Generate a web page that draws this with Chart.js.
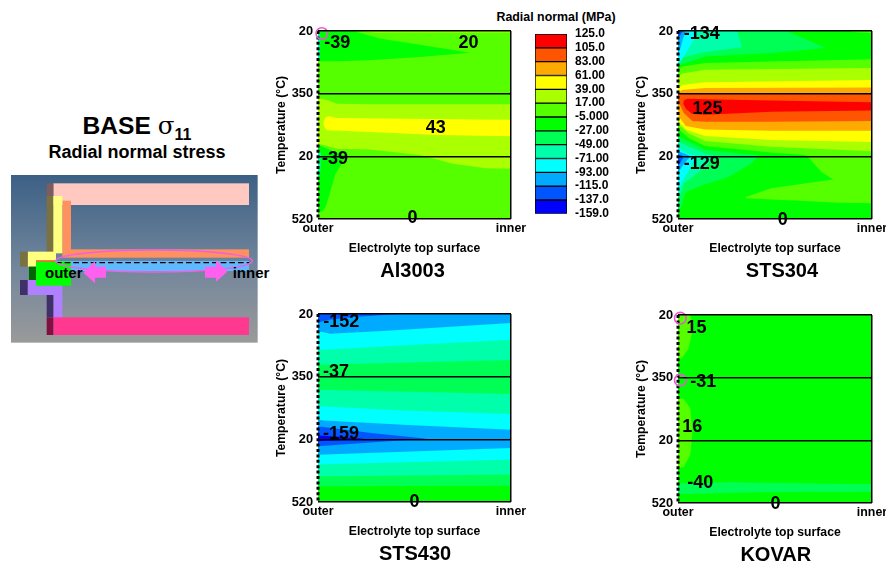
<!DOCTYPE html>
<html>
<head>
<meta charset="utf-8">
<title>BASE radial normal stress</title>
<script src="https://cdn.jsdelivr.net/npm/chart.js@4"></script>
<style>
  html, body { margin: 0; padding: 0; background: #fff; }
  body { position: relative; width: 886px; height: 565px; overflow: hidden; font-family: "Liberation Sans", Arial, sans-serif; color: #000; }
  canvas, svg, .head { position: absolute; }
  .head { left: 0; width: 274px; text-align: center; font-weight: bold; white-space: nowrap; }
  #headA { top: 111px; font-size: 24.6px; line-height: 30px; }
  #headA .sig { font-family: "DejaVu Serif", "Liberation Serif", serif; font-weight: normal; }
  #headA sub { font-size: 16px; line-height: 0; }
  #headB { top: 141px; font-size: 18px; line-height: 22px; }
  #legendTitle { left: 456px; width: 200px; top: 10px; font-size: 12.4px; line-height: 14px; }
</style>
</head>
<body>
<div class="head" id="headA">BASE <span class="sig">σ</span><sub>11</sub></div>
<div class="head" id="headB">Radial normal stress</div>
<div class="head" id="legendTitle">Radial normal (MPa)</div>

<!-- 모델 단면 그림 (데이터 아님) -->
<svg style="left:0;top:100px" width="280" height="250" viewBox="0 0 840 750">
  <defs>
    <linearGradient id="bg" x1="0" y1="0" x2="0" y2="1">
      <stop offset="0" stop-color="#3c6085"/>
      <stop offset="0.55" stop-color="#72869c"/>
      <stop offset="1" stop-color="#9a9a9a"/>
    </linearGradient>
  </defs>
  <rect x="33" y="225" width="740" height="503" fill="url(#bg)"/>
  <rect x="160" y="250" width="587" height="65" fill="#ffc8c0"/>
  <rect x="140" y="250" width="20" height="38" fill="#7c5c5c"/>
  <rect x="187" y="302" width="26" height="150" fill="#ff9060"/>
  <rect x="187" y="448" width="560" height="25" fill="#ff9060"/>
  <rect x="140" y="288" width="20" height="167" fill="#7a7040"/>
  <rect x="160" y="288" width="27" height="172" fill="#ffff80"/>
  <rect x="83" y="455" width="85" height="45" fill="#ffff80"/>
  <rect x="60" y="455" width="23" height="45" fill="#7a7040"/>
  <rect x="165" y="483" width="582" height="30" fill="#60b8ff"/>
  <rect x="87" y="500" width="21" height="40" fill="#006600"/>
  <rect x="83" y="540" width="104" height="45" fill="#b080ff"/>
  <rect x="160" y="585" width="27" height="80" fill="#b080ff"/>
  <rect x="60" y="540" width="23" height="45" fill="#40306a"/>
  <rect x="140" y="585" width="20" height="67" fill="#40306a"/>
  <rect x="108" y="485" width="105" height="72" fill="#00ff00"/>
  <rect x="108" y="481" width="57" height="4" fill="#e04020"/>
  <rect x="160" y="652" width="587" height="53" fill="#ff3890"/>
  <rect x="140" y="652" width="20" height="53" fill="#801040"/>
  <line x1="168" y1="488" x2="747" y2="488" stroke="#000" stroke-width="4" stroke-dasharray="17 9"/>
  <ellipse cx="462" cy="483" rx="295" ry="33" fill="none" stroke="#f060e0" stroke-width="4.5"/>
  <polygon points="318,500 285,500 285,483 250,518 285,550 285,533 318,533" fill="#ff60f0"/>
  <polygon points="615,500 648,500 648,480 682,515 648,545 648,533 615,533" fill="#ff60f0"/>
  <text x="135" y="534" font-size="45" font-weight="bold" fill="#000" font-family="Liberation Sans">outer</text>
  <text x="698" y="534" font-size="45" font-weight="bold" fill="#000" font-family="Liberation Sans">inner</text>
</svg>

<canvas id="chartAl"></canvas>
<canvas id="chartSts304"></canvas>
<canvas id="chartSts430"></canvas>
<canvas id="chartKovar"></canvas>
<canvas id="chartLegend"></canvas>

<script>
// 범례
const legendLabels = ['125.0', '105.0', '83.00', '61.00', '39.00', '17.00', '-5.000', '-27.00', '-49.00', '-71.00', '-93.00', '-115.0', '-137.0', '-159.0'];
const levelColors = ['#ff0000', '#ff5500', '#ffaa00', '#ffff00', '#aaff00', '#55ff00', '#00ff00', '#00ff55', '#00ffaa', '#00ffff', '#00aaff', '#0055ff', '#0000ff'];

// 축 라벨
const xTickLabels = ['outer', 'inner'];
const yTickLabels = ['20', '350', '20', '520'];

// 등고 영역: x 0~100 (outer~inner), y 0~300 (축 눈금 3칸), [x,y,x,y...] 순서대로 덧칠
const al3003Levels = [5, 6, 4, 8, 4, 3, 6, 8];
const al3003Shapes = [
    [0,0, 100,0, 100,300, 0,300],
    [0,0, 18.4,0, 32,12, 52.8,22, 78.7,34.6, 52.8,41.5, 27,46.8, 9.8,48.4, 0,48.4],
    [20,0, 100,0, 100,2.5, 30,2.5],
    [0,5, 1.2,5, 1,45, 0,45],
    [0,106, 1.2,108, 5.5,111, 9.8,116, 27,117, 100,117, 100,220, 87,219, 70,212, 52.8,198, 27,189, 9.8,188, 4.8,183.5, 0,180],
    [2.9,145, 3.8,138, 5.5,136, 9.8,139, 100,141.5, 100,168, 61,166, 27,161, 4.6,158.5, 3.4,154, 2.9,149],
    [0,181, 4.6,188, 14.6,199.5, 9,228, 4.6,275, 3,286, 0,291],
    [0,190, 1.5,195, 1.2,225, 0,235]
];
const al3003Text = ['-39', '20', '43', '-39', '0'];
const al3003TextX = [10, 78, 61, 8.8, 49];
const al3003TextY = [17.5, 17, 154, 202.6, 297];
const al3003RingX = [2];
const al3003RingY = [4];

const sts304Levels = [6, 5, 4, 3, 2, 1, 0, 2, 3, 4, 5, 6, 7, 8, 9, 10, 11, 5, 7, 8, 9, 10, 11];
const sts304Shapes = [
    [0,0, 100,0, 100,300, 0,300],
    [0,62, 2.2,56.6, 14,51, 100,45, 100,300, 0,300],
    [0,74, 2.2,68, 14,62, 100,59, 100,300, 0,300],
    [0,92, 2.2,86, 14,81.6, 100,78, 100,300, 0,300],
    [0,98, 2.2,94, 14,91, 100,90, 100,300, 0,300],
    [0,100, 100,100, 100,300, 0,300],
    [3,111, 4.8,108, 14,109, 48,111, 100,113.7, 100,127, 48,129, 14,133.5, 7.4,132.4, 4.3,125, 2.7,116.4],
    [0,108, 0.5,115, 3,131, 7.4,143.6, 14,145, 48,144.7, 100,143.6, 100,300, 0,300],
    [0,122, 0.5,137, 4,151.6, 14,157, 48,159, 100,159, 100,300, 0,300],
    [0,132, 0.5,144.7, 4,157, 14,167.6, 48,174, 100,177, 100,300, 0,300],
    [0,140, 0.5,150, 5.7,163.4, 14,175.6, 48,184.7, 100,192, 100,300, 0,300],
    [0,150, 0.5,157, 5.7,171, 14,183.6, 48,194, 65.6,198, 67,201, 74,225, 80,237, 66,243, 48,251, 35,265, 35,267, 57,270, 83,274, 100,275, 100,300, 0,300],
    [0,160, 0.5,168.7, 14,190, 40,198, 41.6,199, 38,211, 26,233, 12.5,246, 4,257, 1.4,283, 0,291],
    [0,170, 0.5,177, 14,195.4, 19,199, 14,217, 7.4,233, 3,243, 1.4,259, 0,265],
    [0,185, 3,193, 9,199, 9,200.7, 5.7,222, 2.2,240.7, 0.5,254, 0,258],
    [0,192, 3,195, 6.5,200, 3,212, 1,222, 0,228],
    [0,197, 2,198, 2.5,203, 1,212, 0,215],
    [88,0, 100,0, 100,3, 90,1.5],
    [0,0, 56,0, 76,27, 48.5,35, 14,40.5, 1.4,54, 0,58],
    [0,0, 30.5,0, 33,26, 14,33.6, 1.4,43, 0,48],
    [0,0, 9,0, 8.2,14, 4,35, 1.4,48.5, 0,52],
    [0,0, 4,0, 3,8, 1,30, 0,35],
    [0,0, 2.5,0, 1,8, 0,10]
];
const sts304Text = ['-134', '125', '-129', '0'];
const sts304TextX = [12.3, 15.2, 12.3, 54];
const sts304TextY = [4, 123, 210, 299.5];

const sts430Levels = [10, 11, 9, 8, 7, 8, 9, 10, 11, 12, 9, 8, 7, 6];
const sts430Shapes = [
    [0,0, 100,0, 100,300, 0,300],
    [0,0, 41.7,0, 18.4,4.8, 3.8,10, 0,14],
    [0,28, 3,29, 6.4,31.5, 35.6,26.6, 100,14.4, 100,300, 0,300],
    [0,57, 3,57, 35.6,51.6, 100,41, 100,300, 0,300],
    [0,81, 100,73.4, 100,300, 0,300],
    [0,120.8, 100,127.7, 100,300, 0,300],
    [0,147, 44,154, 100,159.6, 100,300, 0,300],
    [0,168.6, 3,170, 44,176.6, 100,184.6, 100,300, 0,300],
    [0,180, 2,180, 27.5,190, 56.6,199, 27,205, 0,211],
    [0,194, 12,196, 24,199, 12,201, 0,203],
    [0,224.5, 100,214, 100,300, 0,300],
    [0,240, 100,232, 100,300, 0,300],
    [0,259, 100,256, 100,300, 0,300],
    [0,275, 100,274, 100,300, 0,300]
];
const sts430Text = ['-152', '-37', '-159', '0'];
const sts430TextX = [12, 9.3, 11.9, 50];
const sts430TextY = [11.7, 91.5, 190, 298];

const kovarLevels = [6, 5, 5, 7];
const kovarShapes = [
    [0,0, 100,0, 100,300, 0,300],
    [0,0, 6.3,0, 7.7,21, 5.5,53, 2,69, 0,70],
    [0,133, 3,134, 6.3,149, 7.5,186, 6.3,223, 3,242, 0,245],
    [0,268.6, 27,267, 100,270, 100,282, 44,283, 0,286]
];
const kovarText = ['15', '-31', '16', '-40', '0'];
const kovarTextX = [9.6, 13, 7.4, 11.5, 50.3];
const kovarTextY = [19.7, 106, 177, 267, 300];
const kovarRingX = [1.2, 1.2];
const kovarRingY = [5, 104];

const fontFamily = '"Liberation Sans", Arial, sans-serif';
Chart.defaults.font.family = fontFamily;
Chart.defaults.color = '#000';
Chart.defaults.animation = false;

// 차트 위에 글자 찍는 플러그인 (값 라벨 + 재료 이름)
const valueTextPlugin = {
    id: 'valueText',
    afterDraw(chart, args, opts) {
        const { ctx, scales, chartArea } = chart;
        ctx.save();
        ctx.fillStyle = '#000';
        ctx.textAlign = 'center';
        ctx.textBaseline = 'middle';
        ctx.font = 'bold 18px ' + fontFamily;
        opts.text.forEach((t, i) => {
            ctx.fillText(t, scales.x.getPixelForValue(opts.x[i]), scales.y.getPixelForValue(opts.y[i]) + 1);
        });
        ctx.font = 'bold 20px ' + fontFamily;
        ctx.fillText(opts.name, scales.x.getPixelForValue(opts.nameX), chartArea.bottom + 52);
        ctx.restore();
    }
};

function toPoints(flat) {
    const pts = [];
    for (let i = 0; i < flat.length; i += 2) pts.push({ x: flat[i], y: flat[i + 1] });
    return pts;
}

// 패널 하나 그리는 범용 함수
function drawPanel(canvasId, name, box, levels, shapes, text, textX, textY, ringX, ringY) {
    const canvas = document.getElementById(canvasId);
    const padTop = 15, axisW = 50, axisH = 37, padBottom = 27, padRight = 40;
    canvas.width = axisW + box.plotW + padRight;
    canvas.height = padTop + box.plotH + axisH + padBottom;
    canvas.style.left = (box.plotLeft - axisW) + 'px';
    canvas.style.top = (box.plotTop - padTop) + 'px';

    const datasets = shapes.map((shape, i) => ({
        data: toPoints(shape),
        showLine: true,
        fill: 'shape',
        backgroundColor: levelColors[levels[i]],
        borderWidth: 0,
        pointRadius: 0,
        order: shapes.length - i + 5
    }));
    // 왼쪽 점선
    datasets.push({
        data: [{ x: 0, y: 0 }, { x: 0, y: 300 }],
        showLine: true,
        fill: false,
        borderColor: '#000',
        borderWidth: 3,
        borderDash: [3, 2.4],
        pointRadius: 0,
        clip: false,
        order: 1
    });
    if (ringX) {
        datasets.push({
            data: ringX.map((x, i) => ({ x, y: ringY[i] })),
            showLine: false,
            pointStyle: 'circle',
            pointRadius: 5.8,
            pointBorderWidth: 1.6,
            pointBorderColor: '#e858d0',
            pointBackgroundColor: 'transparent',
            clip: false,
            order: 0
        });
    }

    new Chart(canvas, {
        type: 'scatter',
        data: { datasets },
        plugins: [valueTextPlugin],
        options: {
            responsive: false,
            layout: { padding: { top: padTop, left: 0, bottom: padBottom, right: padRight } },
            plugins: {
                legend: { display: false },
                tooltip: { enabled: false },
                valueText: { text, x: textX, y: textY, name, nameX: box.nameX }
            },
            scales: {
                x: {
                    type: 'linear',
                    min: 0,
                    max: 100,
                    afterFit: s => { s.height = axisH; },
                    border: { display: false },
                    grid: {
                        z: 1,
                        drawTicks: false,
                        lineWidth: 1.5,
                        color: c => (c.tick.value === 0 ? 'transparent' : '#000')
                    },
                    ticks: {
                        stepSize: 100,
                        padding: 2,
                        maxRotation: 0,
                        font: { size: 12.4, weight: 'bold' },
                        callback: v => xTickLabels[v / 100]
                    },
                    title: {
                        display: true,
                        text: 'Electrolyte top surface',
                        font: { size: 12.2, weight: 'bold' },
                        padding: 0
                    }
                },
                y: {
                    type: 'linear',
                    reverse: true,
                    min: 0,
                    max: 300,
                    afterFit: s => { s.width = axisW; },
                    border: { display: false },
                    grid: { z: 1, drawTicks: false, lineWidth: 1.5, color: '#000' },
                    ticks: {
                        stepSize: 100,
                        padding: 5,
                        font: { size: 12.8, weight: 'bold' },
                        callback: v => yTickLabels[v / 100]
                    },
                    title: {
                        display: true,
                        text: 'Temperature (°C)',
                        font: { size: 12.2, weight: 'bold' },
                        padding: { top: 6, bottom: 0 }
                    }
                }
            }
        }
    });
}

function drawLegend() {
    const canvas = document.getElementById('chartLegend');
    canvas.width = 129;
    canvas.height = 229;
    canvas.style.left = '492px';
    canvas.style.top = '0px';
    new Chart(canvas, {
        type: 'bar',
        data: {
            labels: [''],
            datasets: levelColors.map((color, i) => ({
                data: [[i, i + 1]],
                backgroundColor: color,
                borderColor: '#000',
                borderWidth: 1,
                borderSkipped: false,
                barPercentage: 1,
                categoryPercentage: 1,
                grouped: false
            }))
        },
        options: {
            responsive: false,
            layout: { padding: { left: 43, bottom: 13, right: 0, top: 34 } },
            plugins: {
                legend: { display: false },
                tooltip: { enabled: false }
            },
            scales: {
                x: { display: false },
                y: {
                    position: 'right',
                    reverse: true,
                    min: 0,
                    max: 13,
                    afterFit: s => { s.width = 54; },
                    border: { display: false },
                    grid: { display: false, drawTicks: false },
                    ticks: {
                        stepSize: 1,
                        autoSkip: false,
                        padding: 8,
                        font: { size: 12, weight: 'bold' },
                        callback: v => legendLabels[v]
                    }
                }
            }
        }
    });
}

document.addEventListener('DOMContentLoaded', () => {
    drawPanel('chartAl', 'Al3003', { plotLeft: 318, plotTop: 31, plotW: 193, plotH: 188, nameX: 49 },
        al3003Levels, al3003Shapes, al3003Text, al3003TextX, al3003TextY, al3003RingX, al3003RingY);
    drawPanel('chartSts304', 'STS304', { plotLeft: 678, plotTop: 31, plotW: 194, plotH: 188, nameX: 53.6 },
        sts304Levels, sts304Shapes, sts304Text, sts304TextX, sts304TextY);
    drawPanel('chartSts430', 'STS430', { plotLeft: 318, plotTop: 314, plotW: 193, plotH: 188, nameX: 50.3 },
        sts430Levels, sts430Shapes, sts430Text, sts430TextX, sts430TextY);
    drawPanel('chartKovar', 'KOVAR', { plotLeft: 678, plotTop: 315, plotW: 194, plotH: 188, nameX: 50.4 },
        kovarLevels, kovarShapes, kovarText, kovarTextX, kovarTextY, kovarRingX, kovarRingY);
    drawLegend();
});
</script>
</body>
</html>
